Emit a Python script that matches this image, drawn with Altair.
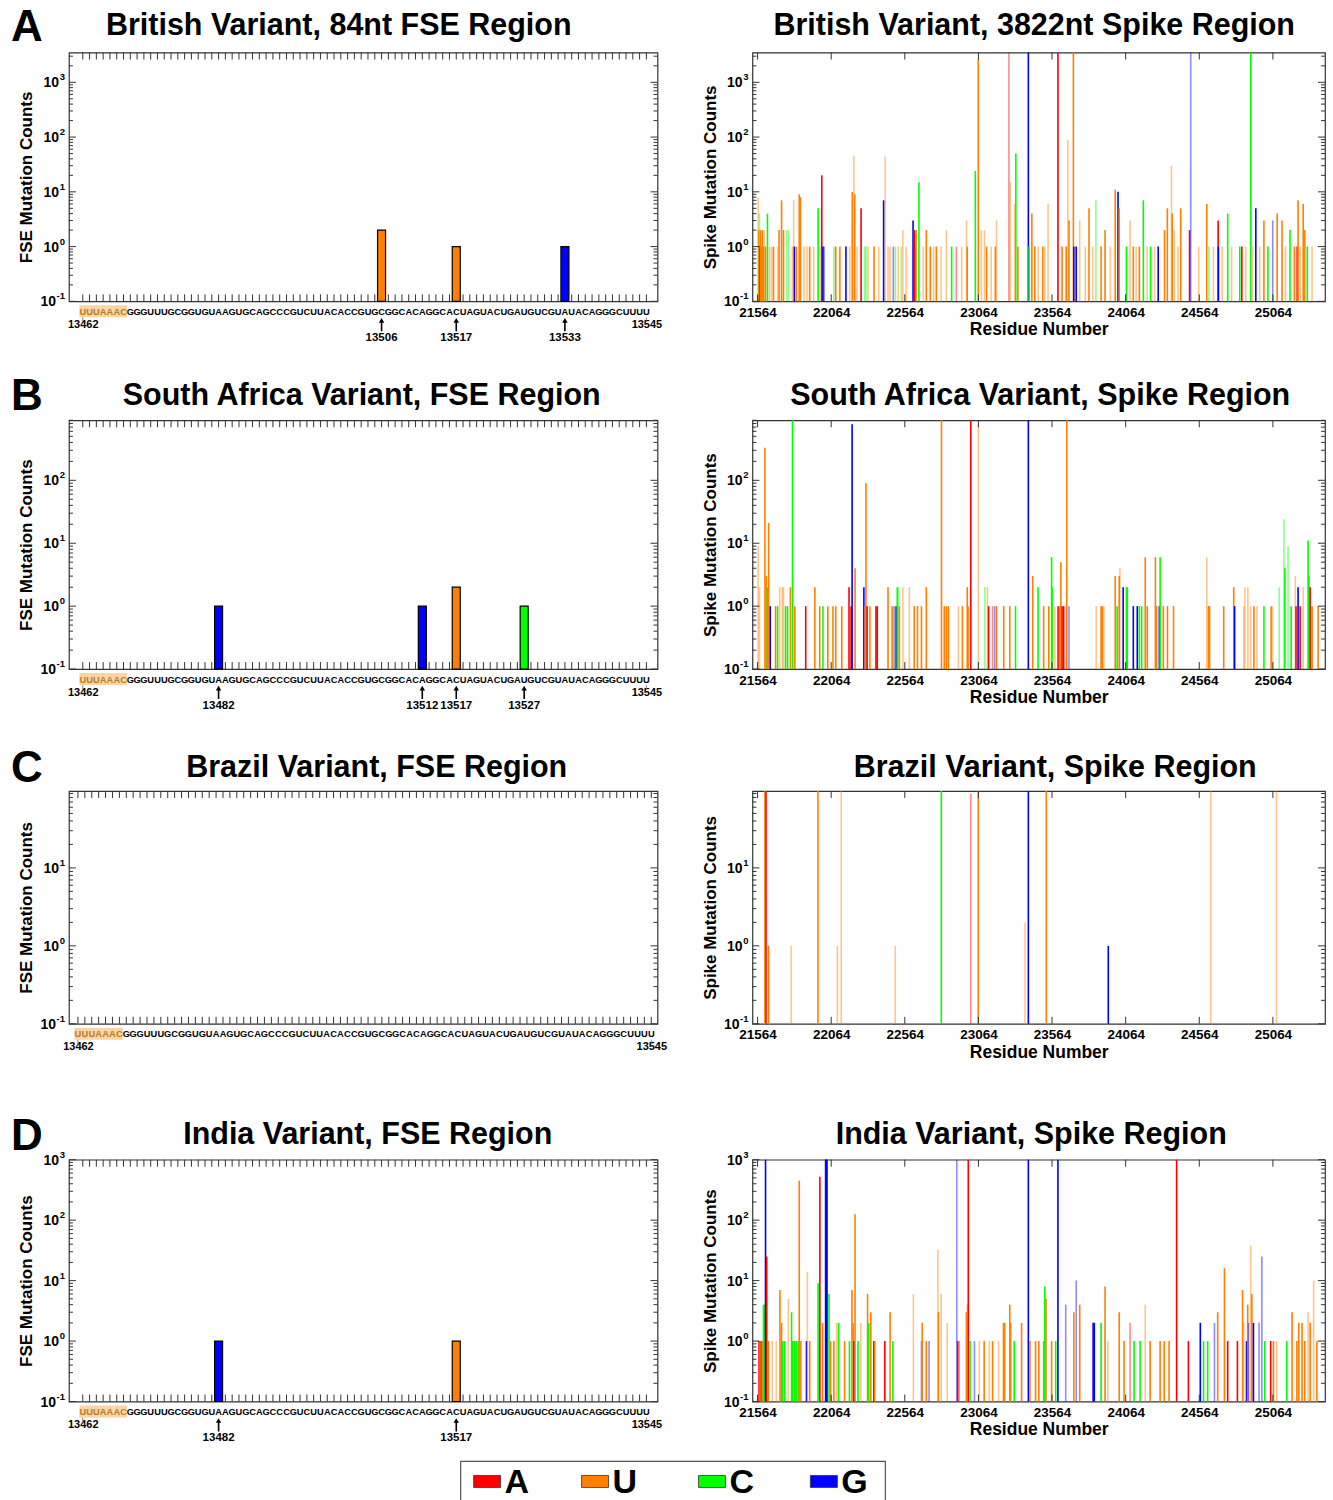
import math
import altair as alt
import pandas as pd

# ---------------------------------------------------------------- data
NUCS = ["A", "U", "C", "G"]
NUC_COLORS = ["#ff0000", "#ff8000", "#00ff00", "#0000ff"]

FSE_FIRST = 13462
FSE_LAST = 13545
FSE_SEQ = "UUUAAACGGGUUUGCGGUGUAAGUGCAGCCCGUCUUACACCGUGCGGCACAGGCACUAGUACUGAUGUCGUAUACAGGGCUUUU"
SLIPPERY_LEN = 7

SPIKE_FIRST = 21563
SPIKE_LAST = 25384
SPIKE_TICKS = [21564, 22064, 22564, 23064, 23564, 24064, 24564, 25064]

PANEL_LETTERS = ["A", "B", "C", "D"]
FSE_TITLES = ["British Variant, 84nt FSE Region", "South Africa Variant, FSE Region",
              "Brazil Variant, FSE Region", "India Variant, FSE Region"]
SPIKE_TITLES = ["British Variant, 3822nt Spike Region", "South Africa Variant, Spike Region",
                "Brazil Variant, Spike Region", "India Variant, Spike Region"]
Y_TOPS = [3500, 900, 97, 1000]

# FSE mutations (position, count, mutated-to nucleotide)
FSE_UK_POS = [13506, 13517, 13533]
FSE_UK_CNT = [2, 1, 1]
FSE_UK_NUC = ["U", "U", "G"]

FSE_SA_POS = [13482, 13512, 13517, 13527]
FSE_SA_CNT = [1, 1, 2, 1]
FSE_SA_NUC = ["G", "G", "U", "C"]

FSE_BR_POS = []
FSE_BR_CNT = []
FSE_BR_NUC = []

FSE_IN_POS = [13482, 13517]
FSE_IN_CNT = [1, 1]
FSE_IN_NUC = ["G", "U"]

# Spike mutations: (position, count, nucleotide, faded)
SPIKE_UK = [
    (21568, 8, "U", 1), (21572, 2, "U", 0), (21577, 4, "C", 1), (21580, 1, "A", 0), (21585, 2, "U", 0),
    (21590, 1, "U", 0), (21597, 2, "U", 0), (21604, 1, "U", 0), (21610, 2, "U", 1), (21618, 1, "U", 0),
    (21631, 4, "C", 0), (21645, 1, "U", 1), (21659, 1, "U", 1), (21672, 1, "U", 0), (21700, 1, "U", 1),
    (21710, 2, "U", 0), (21727, 7, "U", 0), (21740, 2, "U", 0), (21760, 2, "C", 1), (21773, 2, "C", 1),
    (21800, 1, "U", 1), (21809, 7, "U", 1), (21814, 1, "G", 0), (21828, 1, "U", 0), (21847, 9, "U", 0),
    (21855, 8, "U", 0), (21880, 1, "U", 1), (21900, 1, "U", 1), (21918, 1, "U", 0), (21945, 1, "U", 1),
    (21975, 5, "C", 0), (21990, 1, "U", 1), (22000, 20, "A", 0), (22008, 1, "G", 0), (22016, 1, "G", 1),
    (22082, 1, "C", 1), (22095, 1, "U", 0), (22123, 1, "U", 0), (22164, 1, "G", 0), (22190, 1, "U", 1),
    (22207, 10, "U", 0), (22218, 45, "U", 1), (22224, 9, "U", 0), (22240, 1, "U", 1), (22267, 5, "A", 0),
    (22290, 1, "C", 1), (22300, 1, "C", 1), (22314, 1, "U", 1), (22355, 1, "U", 0), (22387, 1, "U", 1),
    (22420, 7, "G", 0), (22431, 44, "U", 1), (22450, 1, "U", 1), (22464, 1, "U", 1), (22486, 1, "G", 1),
    (22500, 1, "C", 1), (22519, 1, "U", 1), (22540, 1, "C", 1), (22551, 2, "U", 1), (22573, 1, "U", 1),
    (22620, 3, "G", 0), (22628, 2, "A", 0), (22633, 1, "A", 0), (22640, 2, "U", 0), (22660, 15, "C", 0),
    (22690, 1, "U", 1), (22710, 2, "U", 0), (22737, 1, "U", 0), (22760, 1, "U", 1), (22778, 1, "U", 0),
    (22810, 1, "U", 1), (22846, 2, "U", 1), (22882, 1, "C", 0), (22914, 1, "A", 1), (22950, 1, "U", 1),
    (22983, 3, "U", 1), (22988, 1, "U", 0), (23043, 24, "C", 0), (23063, 2700, "U", 0), (23084, 2, "U", 1),
    (23105, 2, "U", 1), (23119, 1, "U", 0), (23150, 1, "U", 1), (23179, 1, "U", 0), (23187, 3, "U", 1),
    (23271, 5000, "A", 1), (23280, 15, "U", 1), (23310, 6, "U", 1), (23318, 50, "C", 0), (23332, 1, "U", 0),
    (23403, 5000, "G", 0), (23408, 1, "C", 0), (23427, 4, "U", 0), (23447, 1, "U", 0), (23470, 1, "U", 1),
    (23501, 1, "U", 0), (23515, 1, "U", 1), (23537, 6, "U", 1), (23604, 5000, "A", 0), (23632, 1, "U", 0),
    (23660, 1, "U", 0), (23671, 90, "U", 1), (23679, 3, "U", 0), (23709, 5000, "U", 0), (23712, 1, "G", 0),
    (23728, 1, "G", 0), (23752, 3, "U", 1), (23790, 1, "U", 1), (23815, 5, "U", 0), (23840, 1, "U", 1),
    (23862, 7, "C", 1), (23897, 1, "U", 0), (23924, 2, "U", 0), (23960, 1, "U", 1), (23993, 11, "U", 0),
    (24012, 10, "G", 0), (24020, 5, "U", 0), (24069, 1, "C", 0), (24094, 3, "U", 1), (24116, 1, "U", 0),
    (24135, 1, "U", 1), (24157, 1, "U", 0), (24184, 7, "C", 0), (24210, 1, "U", 1), (24233, 1, "C", 0),
    (24260, 1, "U", 1), (24285, 1, "G", 0), (24328, 2, "U", 0), (24347, 5, "U", 0), (24375, 30, "U", 1),
    (24380, 4, "U", 0), (24394, 2, "U", 1), (24420, 1, "U", 1), (24438, 5, "U", 0), (24498, 2, "A", 0),
    (24506, 5000, "G", 1), (24560, 1, "U", 1), (24615, 6, "U", 0), (24629, 1, "C", 1), (24660, 1, "U", 1),
    (24692, 3, "A", 0), (24694, 1, "G", 0), (24720, 1, "U", 1), (24757, 4, "C", 0), (24784, 1, "U", 1),
    (24839, 1, "C", 0), (24853, 1, "A", 0), (24880, 1, "U", 1), (24914, 5000, "C", 0), (24926, 1, "U", 1),
    (24948, 5, "G", 0), (24975, 1, "U", 1), (25003, 3, "U", 0), (25030, 1, "C", 0), (25063, 3, "G", 1),
    (25093, 4, "U", 0), (25126, 3, "U", 0), (25150, 1, "U", 1), (25180, 2, "C", 0), (25210, 1, "U", 0),
    (25229, 1, "A", 0), (25235, 7, "U", 0), (25250, 1, "U", 1), (25270, 6, "U", 0), (25281, 2, "U", 0),
    (25298, 1, "C", 0), (25330, 1, "U", 1),
]

SPIKE_SA = [
    (21568, 9, "U", 1), (21577, 2, "U", 1), (21614, 330, "U", 0), (21623, 3, "U", 0), (21631, 2, "C", 0),
    (21639, 21, "U", 0), (21650, 1, "G", 0), (21686, 1, "U", 0), (21700, 1, "C", 0), (21714, 2, "U", 1),
    (21732, 2, "U", 1), (21740, 2, "U", 1), (21754, 1, "C", 0), (21768, 1, "C", 0), (21787, 2, "U", 0),
    (21801, 5000, "C", 0), (21817, 1, "U", 0), (21891, 1, "A", 0), (21953, 2, "U", 0), (21986, 1, "U", 0),
    (22008, 1, "C", 0), (22041, 1, "U", 0), (22076, 1, "U", 0), (22095, 1, "U", 0), (22136, 1, "U", 0),
    (22185, 2, "A", 0), (22199, 1, "A", 0), (22206, 780, "G", 0), (22226, 4, "U", 0), (22286, 2, "G", 0),
    (22295, 1, "U", 0), (22300, 90, "U", 0), (22308, 1, "A", 0), (22327, 1, "U", 0), (22368, 1, "A", 0),
    (22377, 1, "A", 0), (22450, 2, "U", 0), (22478, 1, "U", 0), (22491, 1, "G", 1), (22505, 1, "G", 0),
    (22513, 2, "C", 0), (22519, 2, "C", 1), (22527, 1, "U", 0), (22551, 2, "U", 1), (22595, 2, "U", 1),
    (22628, 1, "U", 0), (22650, 1, "U", 0), (22677, 1, "U", 0), (22710, 2, "U", 0), (22813, 5000, "U", 0),
    (22832, 1, "U", 0), (22846, 1, "U", 0), (22860, 1, "U", 0), (22928, 1, "U", 1), (22955, 1, "U", 0),
    (22988, 2, "U", 0), (22994, 1, "U", 0), (23012, 5000, "A", 0), (23063, 750, "U", 1), (23108, 2, "C", 1),
    (23125, 2, "U", 1), (23133, 1, "A", 0), (23160, 1, "A", 1), (23174, 1, "G", 1), (23187, 1, "U", 0),
    (23236, 1, "U", 0), (23277, 1, "U", 0), (23316, 1, "C", 0), (23403, 5000, "G", 0), (23433, 3, "U", 0),
    (23469, 2, "C", 0), (23507, 1, "U", 0), (23542, 1, "U", 0), (23561, 6, "C", 0), (23564, 2, "C", 0),
    (23583, 1, "U", 1), (23605, 1, "A", 0), (23616, 1, "U", 0), (23624, 5, "U", 0), (23632, 1, "A", 0),
    (23643, 1, "A", 0), (23660, 1, "U", 1), (23664, 5000, "U", 0), (23679, 1, "G", 1), (23864, 1, "U", 1),
    (23897, 1, "U", 0), (23905, 1, "U", 0), (23916, 1, "U", 1), (23993, 3, "U", 0), (24006, 1, "C", 0),
    (24020, 3, "U", 0), (24025, 4, "U", 1), (24047, 2, "G", 0), (24069, 2, "C", 0), (24075, 2, "C", 0),
    (24116, 1, "G", 0), (24143, 1, "G", 0), (24157, 1, "C", 0), (24173, 1, "C", 0), (24197, 6, "U", 0),
    (24211, 1, "U", 0), (24266, 6, "U", 0), (24274, 1, "U", 0), (24293, 1, "G", 0), (24298, 6, "C", 0),
    (24320, 1, "U", 0), (24348, 1, "U", 0), (24389, 1, "U", 0), (24615, 6, "U", 1), (24626, 1, "U", 0),
    (24634, 1, "U", 0), (24730, 1, "U", 0), (24798, 2, "U", 0), (24804, 1, "G", 0), (24866, 1, "U", 1),
    (24874, 2, "U", 1), (24894, 2, "U", 1), (24913, 1, "U", 1), (24935, 1, "U", 0), (24956, 1, "U", 1),
    (25003, 1, "C", 0), (25052, 1, "U", 0), (25063, 1, "U", 1), (25107, 2, "C", 1), (25139, 24, "C", 1),
    (25145, 4, "C", 0), (25167, 9, "C", 1), (25188, 1, "C", 0), (25216, 3, "U", 1), (25221, 1, "A", 0),
    (25235, 2, "G", 0), (25249, 1, "A", 0), (25270, 2, "U", 1), (25303, 11, "C", 0), (25309, 3, "C", 0),
    (25317, 2, "A", 0), (25330, 1, "U", 0), (25371, 1, "U", 0),
]

SPIKE_BR = [
    (21614, 5000, "U", 0), (21621, 5000, "A", 0), (21638, 1, "U", 0), (21792, 1, "U", 1),
    (21974, 5000, "U", 0), (22106, 1, "U", 1), (22132, 5000, "U", 1), (22499, 1, "U", 1),
    (22812, 5000, "C", 0), (23012, 90, "A", 1), (23063, 5000, "U", 0), (23380, 2, "U", 1),
    (23403, 5000, "G", 0), (23525, 5000, "U", 0), (23946, 1, "G", 0), (24642, 5000, "U", 1),
    (25088, 5000, "U", 1),
]

SPIKE_IN = [
    (21574, 1, "A", 0), (21582, 1, "U", 0), (21590, 1, "A", 0), (21596, 1, "U", 0), (21604, 4, "C", 0),
    (21612, 4, "C", 0), (21618, 5000, "G", 0), (21626, 25, "A", 0), (21637, 1, "U", 0), (21664, 1, "U", 1),
    (21691, 1, "U", 1), (21716, 7, "U", 0), (21727, 2, "U", 0), (21732, 1, "C", 0), (21746, 1, "C", 0),
    (21773, 5, "U", 1), (21795, 3, "C", 0), (21803, 1, "C", 0), (21814, 1, "C", 0), (21828, 1, "C", 0),
    (21841, 1, "C", 0), (21847, 450, "U", 0), (21858, 1, "U", 0), (21896, 1, "G", 0), (21902, 14, "U", 1),
    (21918, 1, "U", 0), (21975, 9, "C", 0), (21987, 520, "A", 0), (22005, 2, "U", 0), (22026, 5000, "G", 0),
    (22029, 5000, "G", 0), (22032, 5000, "G", 0), (22035, 5000, "G", 0), (22049, 6, "C", 0), (22060, 1, "U", 0),
    (22082, 1, "U", 0), (22101, 2, "U", 1), (22114, 2, "C", 0), (22155, 1, "U", 0), (22188, 1, "C", 0),
    (22205, 7, "U", 0), (22213, 2, "U", 0), (22220, 1, "G", 0), (22226, 125, "U", 0), (22246, 1, "C", 0),
    (22265, 2, "U", 1), (22311, 6, "U", 0), (22319, 2, "C", 0), (22333, 3, "U", 0), (22355, 1, "G", 0),
    (22360, 1, "U", 0), (22428, 1, "A", 0), (22464, 3, "U", 0), (22483, 1, "C", 0), (22622, 6, "U", 1),
    (22677, 1, "G", 1), (22682, 2, "U", 0), (22710, 1, "U", 0), (22729, 1, "G", 1), (22789, 32, "U", 1),
    (22792, 3, "U", 0), (22811, 6, "U", 1), (22852, 2, "U", 1), (22917, 5000, "G", 1), (22923, 1, "A", 0),
    (22933, 1, "A", 1), (22982, 3, "U", 0), (22988, 4, "U", 1), (22995, 5000, "A", 0), (23007, 1, "C", 0),
    (23037, 1, "G", 1), (23070, 1, "U", 1), (23103, 1, "U", 0), (23138, 1, "U", 1), (23160, 1, "U", 0),
    (23201, 1, "U", 1), (23234, 2, "U", 0), (23242, 2, "U", 0), (23277, 4, "U", 0), (23283, 2, "U", 0),
    (23307, 1, "C", 0), (23357, 2, "U", 0), (23403, 5000, "G", 0), (23414, 1, "U", 0), (23452, 1, "U", 0),
    (23474, 1, "U", 0), (23507, 1, "G", 1), (23515, 8, "C", 0), (23523, 5, "U", 0), (23561, 1, "U", 0),
    (23589, 1, "C", 0), (23604, 5000, "G", 0), (23657, 4, "G", 1), (23712, 3, "U", 0), (23728, 10, "G", 1),
    (23752, 4, "U", 0), (23843, 2, "G", 0), (23851, 2, "G", 0), (23897, 2, "C", 0), (23924, 8, "U", 0),
    (23943, 1, "U", 1), (24020, 3, "U", 0), (24053, 1, "U", 0), (24094, 2, "A", 1), (24121, 1, "C", 0),
    (24162, 1, "C", 0), (24197, 4, "U", 1), (24230, 1, "U", 0), (24298, 1, "U", 0), (24326, 1, "U", 0),
    (24359, 1, "U", 0), (24410, 5000, "A", 0), (24490, 1, "A", 0), (24571, 2, "G", 0), (24593, 1, "C", 0),
    (24621, 1, "C", 0), (24667, 2, "G", 1), (24689, 3, "U", 0), (24735, 16, "U", 0), (24757, 1, "A", 0),
    (24823, 1, "A", 0), (24858, 7, "U", 0), (24866, 2, "U", 1), (24885, 1, "G", 0), (24893, 4, "U", 0),
    (24899, 2, "G", 1), (24913, 38, "U", 1), (24921, 6, "U", 0), (24932, 2, "G", 0), (24970, 2, "G", 1),
    (24989, 25, "G", 1), (25008, 1, "C", 0), (25049, 1, "A", 0), (25068, 1, "U", 0), (25090, 1, "U", 1),
    (25158, 1, "C", 0), (25194, 3, "U", 0), (25227, 1, "U", 0), (25240, 2, "U", 0), (25262, 2, "U", 0),
    (25281, 1, "U", 0), (25303, 3, "U", 1), (25317, 2, "U", 0), (25341, 10, "U", 1), (25363, 1, "U", 0),
]

# ---------------------------------------------------------------- style / layout
BOLD = "Liberation Sans, Arial, Helvetica, sans-serif"
FRAME = "#333333"
SLIP_BG = "#fbd4a2"
SLIP_FG = "#b87b2e"
FSE_W = 589
SPIKE_W = 573
ROW_H = [249, 249, 233, 242]
GAPS = [119, 122, 136]
TITLE_POS_L = [(270, -18), (293, -15), (308, -14), (299, -16)]
TITLE_POS_R = [(282, -18), (288, -15), (303, -14), (279, -16)]
LETTER_Y = [-12, -10, -9, -10]

CSCALE = alt.Scale(domain=NUCS, range=NUC_COLORS)


def log_ticks(ytop):
    major, minor = [], []
    for e in range(-1, 5):
        d = 10.0 ** e
        if d <= ytop * 1.001:
            major.append(d)
        for k in range(2, 10):
            if k * d <= ytop:
                minor.append(k * d)
    return major, minor


def text_layer(txt, x, y, size, align="center", color="black"):
    return alt.Chart(pd.DataFrame({"t": [txt]})).mark_text(
        font=BOLD, fontSize=size, fontWeight="bold", align=align,
        baseline="alphabetic", color=color
    ).encode(text="t:N", x=alt.value(x), y=alt.value(y))


def frame_layers(xs, ys, xvals, ytop, W, H, xaxis, ytitle):
    major, minor = log_ticks(ytop)
    xdf = pd.DataFrame({"tx": xvals})
    mj = pd.DataFrame({"ty": major})
    mn = pd.DataFrame({"ty": minor})
    lab = pd.DataFrame({"ty": major, "base": ["10"] * len(major),
                        "exp": [str(int(round(math.log10(v)))) for v in major]})
    yaxis = alt.Axis(values=major, labels=False, title=ytitle, titleFontSize=17, titlePadding=33)
    L, Lm = 7, 4
    rc = dict(color=FRAME, strokeWidth=1)
    base_txt = dict(font=BOLD, fontSize=14, fontWeight="bold", align="right", baseline="middle")
    return [
        alt.Chart(xdf).mark_rule(**rc).encode(x=alt.X("tx:Q", scale=xs, axis=xaxis),
                                              y=alt.value(0), y2=alt.value(L)),
        alt.Chart(xdf).mark_rule(**rc).encode(x=alt.X("tx:Q", scale=xs),
                                              y=alt.value(H), y2=alt.value(H - L)),
        alt.Chart(mj).mark_rule(**rc).encode(y=alt.Y("ty:Q", scale=ys, axis=yaxis),
                                             x=alt.value(0), x2=alt.value(L)),
        alt.Chart(mj).mark_rule(**rc).encode(y=alt.Y("ty:Q", scale=ys),
                                             x=alt.value(W), x2=alt.value(W - L)),
        alt.Chart(mn).mark_rule(**rc).encode(y=alt.Y("ty:Q", scale=ys),
                                             x=alt.value(0), x2=alt.value(Lm)),
        alt.Chart(mn).mark_rule(**rc).encode(y=alt.Y("ty:Q", scale=ys),
                                             x=alt.value(W), x2=alt.value(W - Lm)),
        # y tick labels: "10" with a raised exponent
        alt.Chart(lab).transform_filter("datum.ty >= 0.5").mark_text(**base_txt, dy=1).encode(
            y=alt.Y("ty:Q", scale=ys), x=alt.value(-10), text="base:N"),
        alt.Chart(lab).transform_filter("datum.ty < 0.5").mark_text(**base_txt, dy=1).encode(
            y=alt.Y("ty:Q", scale=ys), x=alt.value(-13), text="base:N"),
        alt.Chart(lab).mark_text(font=BOLD, fontSize=9.5, fontWeight="bold", align="right",
                                 baseline="middle", dy=-5).encode(
            y=alt.Y("ty:Q", scale=ys), x=alt.value(-4), text="exp:N"),
    ]


def legend_layers(H):
    # legend box drawn below the last FSE panel, in pixels relative to that panel
    layers = [alt.Chart(pd.DataFrame({"b": [0]})).mark_rect(
        fill="white", stroke="#555555", strokeWidth=1.2
    ).encode(x=alt.value(392), x2=alt.value(817), y=alt.value(H + 60), y2=alt.value(H + 110))]
    swatch_x = [405, 513, 630, 742]
    for nuc, sx in zip(NUCS, swatch_x):
        d = pd.DataFrame({"nuc": [nuc]})
        layers.append(alt.Chart(d).mark_rect(stroke="#333333", strokeWidth=0.8).encode(
            x=alt.value(sx), x2=alt.value(sx + 27), y=alt.value(H + 74), y2=alt.value(H + 86),
            color=alt.Color("nuc:N", scale=CSCALE, legend=None)))
        layers.append(alt.Chart(d).mark_text(font=BOLD, fontSize=34, fontWeight="bold",
                                             align="left", baseline="alphabetic").encode(
            text="nuc:N", x=alt.value(sx + 31), y=alt.value(H + 92)))
    return layers


def fse_panel(i, pos, cnt, nuc):
    W, H, ytop = FSE_W, ROW_H[i], Y_TOPS[i]
    xs = alt.Scale(domain=[13460.7, 13545.9], nice=False, zero=False)
    ys = alt.Scale(type="log", domain=[0.1, ytop], nice=False, clamp=True)
    seq = pd.DataFrame({
        "pos": [FSE_FIRST + k for k in range(len(FSE_SEQ))],
        "base": list(FSE_SEQ),
        "slip": [k < SLIPPERY_LEN for k in range(len(FSE_SEQ))],
    })
    xaxis = alt.Axis(values=[FSE_FIRST, FSE_LAST], format="d", title=None, labelFlush=False,
                     labelPadding=17, labelFontSize=11)
    layers = frame_layers(xs, ys, list(range(FSE_FIRST, FSE_LAST + 1)), ytop, W, H, xaxis,
                          "FSE Mutation Counts")
    layers.append(alt.Chart(seq).transform_filter("datum.slip").transform_calculate(
        x0="datum.pos - 0.5", x1="datum.pos + 0.5"
    ).mark_rect(color=SLIP_BG).encode(
        x=alt.X("x0:Q", scale=xs), x2="x1:Q",
        y=alt.value(H + 4), y2=alt.value(H + 16)))
    layers.append(alt.Chart(seq).mark_text(font=BOLD, fontSize=9.3, fontWeight="bold",
                                           baseline="middle").encode(
        x=alt.X("pos:Q", scale=xs), y=alt.value(H + 10.5), text="base:N",
        color=alt.condition("datum.slip", alt.value(SLIP_FG), alt.value("black"))))
    layers.append(alt.Chart(pd.DataFrame({"p": [FSE_FIRST, FSE_LAST]})).mark_rule(
        color="#666666", strokeWidth=0.8).encode(
        x=alt.X("p:Q", scale=xs), y=alt.value(H + 16), y2=alt.value(H + 20)))
    if len(pos):
        mut = pd.DataFrame({"pos": pos, "cnt": cnt, "nuc": nuc})
        layers.append(alt.Chart(mut).mark_bar(size=8, stroke="black", strokeWidth=1.2).encode(
            x=alt.X("pos:Q", scale=xs),
            y=alt.Y("cnt:Q", scale=ys), y2=alt.datum(0.1),
            color=alt.Color("nuc:N", scale=CSCALE, legend=None)))
        layers.append(alt.Chart(mut).mark_rule(color="black", strokeWidth=1.6).encode(
            x=alt.X("pos:Q", scale=xs), y=alt.value(H + 19), y2=alt.value(H + 30)))
        layers.append(alt.Chart(mut).mark_point(shape="triangle-up", filled=True, size=30,
                                                color="black", opacity=1).encode(
            x=alt.X("pos:Q", scale=xs), y=alt.value(H + 19)))
        layers.append(alt.Chart(mut).mark_text(font=BOLD, fontSize=11.5, fontWeight="bold",
                                               baseline="middle").encode(
            x=alt.X("pos:Q", scale=xs), y=alt.value(H + 37), text=alt.Text("pos:Q", format="d")))
    tx, ty = TITLE_POS_L[i]
    layers.append(text_layer(FSE_TITLES[i], tx, ty, 30.5))
    layers.append(text_layer(PANEL_LETTERS[i], -58, LETTER_Y[i], 44, align="left"))
    if i == 3:
        layers += legend_layers(H)
    return alt.layer(*layers).properties(width=W, height=H)


def spike_panel(i, rows):
    W, H, ytop = SPIKE_W, ROW_H[i], Y_TOPS[i]
    xs = alt.Scale(domain=[SPIKE_FIRST, SPIKE_LAST], nice=False, zero=False)
    ys = alt.Scale(type="log", domain=[0.1, ytop], nice=False, clamp=True)
    df = pd.DataFrame(rows, columns=["pos", "cnt", "nuc", "faded"])
    xaxis = alt.Axis(values=SPIKE_TICKS, format="d", title="Residue Number", labelPadding=4,
                     labelFontSize=13.5, titleFontSize=17.5, titlePadding=2)
    layers = frame_layers(xs, ys, SPIKE_TICKS, ytop, W, H, xaxis, "Spike Mutation Counts")
    layers.insert(0, alt.Chart(df).mark_bar(size=1.6).encode(
        x=alt.X("pos:Q", scale=xs),
        y=alt.Y("cnt:Q", scale=ys), y2=alt.datum(0.1),
        color=alt.Color("nuc:N", scale=CSCALE, legend=None),
        opacity=alt.condition("datum.faded == 1", alt.value(0.45), alt.value(1.0))))
    tx, ty = TITLE_POS_R[i]
    layers.append(text_layer(SPIKE_TITLES[i], tx, ty, 30.5))
    return alt.layer(*layers).properties(width=W, height=H)


def spacer(h):
    return alt.Chart(pd.DataFrame({"z": [0]})).mark_point(opacity=0).encode(
        x=alt.value(0), y=alt.value(0)
    ).properties(width=10, height=h, view=alt.ViewBackground(stroke="transparent"))


fse_sets = [(FSE_UK_POS, FSE_UK_CNT, FSE_UK_NUC), (FSE_SA_POS, FSE_SA_CNT, FSE_SA_NUC),
            (FSE_BR_POS, FSE_BR_CNT, FSE_BR_NUC), (FSE_IN_POS, FSE_IN_CNT, FSE_IN_NUC)]
spike_sets = [SPIKE_UK, SPIKE_SA, SPIKE_BR, SPIKE_IN]

cells = []
for i in range(4):
    cells.append(fse_panel(i, *fse_sets[i]))
    cells.append(spike_panel(i, spike_sets[i]))
    if i < 3:
        cells.append(spacer(GAPS[i]))
        cells.append(spacer(GAPS[i]))

chart = alt.concat(
    *cells, columns=2, spacing=alt.RowColnumber(row=0, column=95), bounds="flush", align="each"
).properties(
    padding={"left": 10, "top": 4, "right": 6, "bottom": 4}, background="white"
).configure_view(
    stroke=FRAME, strokeWidth=1.2
).configure_axis(
    grid=False, domain=False, ticks=False, labelFont=BOLD, labelFontWeight="bold",
    labelColor="black", titleFont=BOLD, titleFontWeight="bold", titleColor="black"
)

chart.save("out.html", embed_options={"renderer": "svg", "actions": False})
